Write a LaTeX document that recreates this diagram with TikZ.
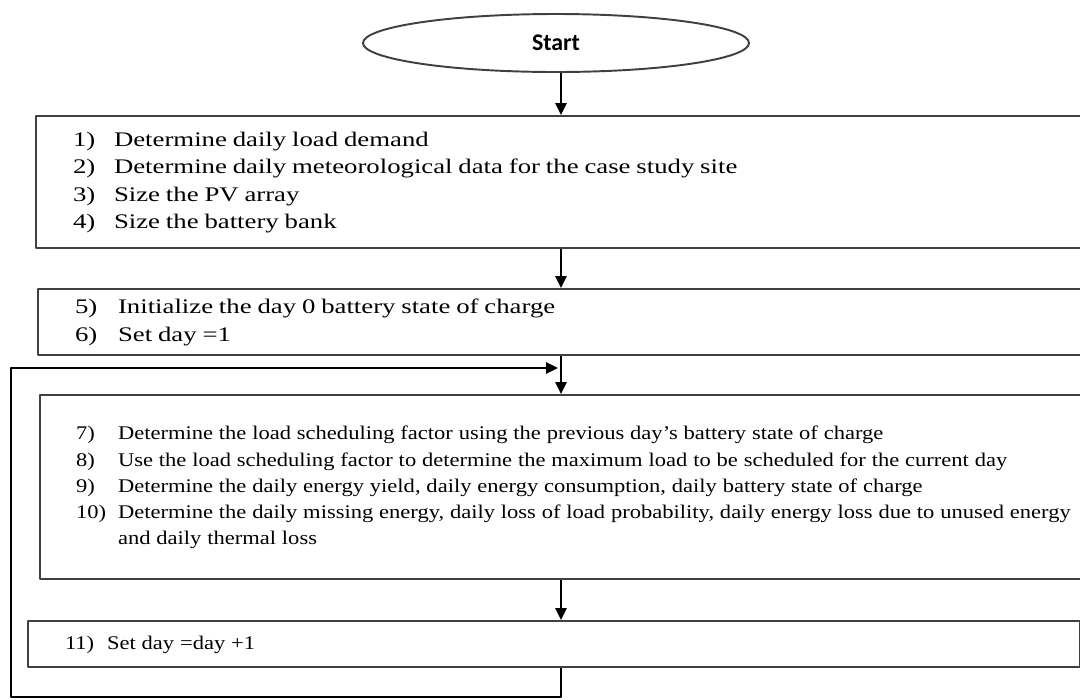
\documentclass[tikz,border=0pt]{standalone}
\usepackage{fontspec}
\setmainfont{Liberation Serif}
\newfontfamily\wideserif[FakeStretch=1.29]{Liberation Serif}
\newfontfamily\narrowserif[FakeStretch=1.165]{Liberation Serif}
\newfontfamily\startfont{Carlito}
\usetikzlibrary{arrows.meta,shapes.geometric}
\tikzset{
  every picture/.style={
    line join=round,
    >={Triangle[length=2.4mm,width=2.3mm]},
  },
  stepbox/.style={draw=black!75, line width=1.2pt, rectangle,
    anchor=north west, align=left, inner ysep=0pt},
  flow/.style={->, line width=0.8pt},
}
% numbered steps: label column, then text
\newcommand{\steplist}[2]{\begin{tabular}{@{}p{#1}@{}l@{}}#2\end{tabular}}

\begin{document}
\begin{tikzpicture}[x=0.2mm,y=-0.2mm]
\useasboundingbox (0,0) rectangle (1080,699);
\coordinate (spine) at (561,0);
\node[draw=black!75, line width=1.1pt, ellipse, minimum width=77.2mm,
  minimum height=11.6mm, inner sep=0pt,
  font=\startfont\bfseries\fontsize{13.6}{15}\selectfont] (start) at (556,43) {Start};
\node[stepbox, minimum width=215mm, minimum height=26.4mm, inner xsep=7.4mm,
  text width=200.2mm] (load) at (35,115)
  {\wideserif\fontsize{11.8}{15.4}\selectfont\steplist{8.2mm}{
    1) & Determine daily load demand\\
    2) & Determine daily meteorological data for the case study site\\
    3) & Size the PV array\\
    4) & Size the battery bank}};
\node[stepbox, minimum width=214.6mm, minimum height=13.2mm, inner xsep=7.4mm,
  text width=199.8mm] (init) at (37,288)
  {\wideserif\fontsize{11.8}{16}\selectfont\steplist{8.6mm}{
    5) & Initialize the day 0 battery state of charge\\
    6) & Set day =1}};
\node[stepbox, minimum width=214.2mm, minimum height=36.8mm, inner xsep=7.2mm,
  text width=199.8mm] (daily) at (39,394)
  {\narrowserif\fontsize{11}{14.9}\selectfont\steplist{8.4mm}{
    7) & Determine the load scheduling factor using the previous day’s battery state of charge\\
    8) & Use the load scheduling factor to determine the maximum load to be scheduled for the current day\\
    9) & Determine the daily energy yield, daily energy consumption, daily battery state of charge\\
    10) & Determine the daily missing energy, daily loss of load probability, daily energy loss due to unused energy\\
        & and daily thermal loss}};
\node[stepbox, minimum width=210.4mm, minimum height=9.2mm, inner xsep=7.4mm,
  text width=195.6mm] (next) at (27,620)
  {\narrowserif\fontsize{11}{14.8}\selectfont\steplist{8.4mm}{
    11) & Set day =day +1}};
\coordinate (back) at (11,697);
\coordinate (join) at (558,368);
\draw[flow] (start.south -| spine) -- (spine |- load.north);
\draw[flow] (spine |- load.south) -- (spine |- init.north);
\draw[flow] (spine |- init.south) -- (spine |- daily.north);
\draw[flow] (spine |- daily.south) -- (spine |- next.north);
\draw[flow] (spine |- next.south) |- (back) |- (join);
\end{tikzpicture}
\end{document}
